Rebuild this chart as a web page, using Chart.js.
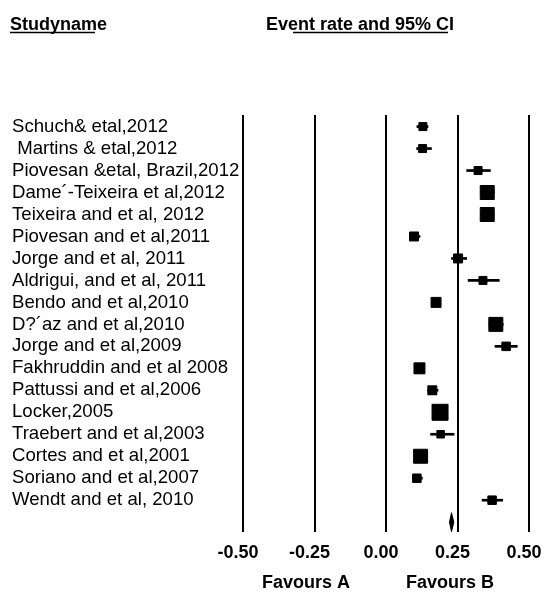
<!DOCTYPE html>
<html>
<head>
<meta charset="utf-8">
<script src="https://cdn.jsdelivr.net/npm/chart.js@4/dist/chart.umd.min.js"></script>
<style>
  html, body { margin: 0; padding: 0; background: #fff; }
  #wrap { width: 545px; height: 592px; }
</style>
</head>
<body>
<div id="wrap"><canvas id="c" width="545" height="592"></canvas></div>
<script>
// ---- data ----
const studyNames = [
  "Schuch& etal,2012",
  " Martins & etal,2012",
  "Piovesan &etal, Brazil,2012",
  "Dame\u00B4-Teixeira et al,2012",
  "Teixeira and et al, 2012",
  "Piovesan and et al,2011",
  "Jorge and et al, 2011",
  "Aldrigui, and et al, 2011",
  "Bendo and et al,2010",
  "D?\u00B4az and et al,2010",
  "Jorge and et al,2009",
  "Fakhruddin and et al 2008",
  "Pattussi and et al,2006",
  "Locker,2005",
  "Traebert and et al,2003",
  "Cortes and et al,2001",
  "Soriano and et al,2007",
  "Wendt and et al, 2010"
];
const eventRate = [0.129, 0.128, 0.322, 0.354, 0.354, 0.098, 0.252, 0.339, 0.175,
                   0.384, 0.420, 0.117, 0.162, 0.189, 0.191, 0.121, 0.108, 0.371];
const lowerCI   = [0.108, 0.107, 0.282, 0.330, 0.330, 0.083, 0.229, 0.287, 0.160,
                   0.360, 0.381, 0.100, 0.146, 0.170, 0.156, 0.100, 0.092, 0.336];
const upperCI   = [0.147, 0.159, 0.365, 0.378, 0.378, 0.119, 0.282, 0.396, 0.190,
                   0.410, 0.459, 0.135, 0.182, 0.210, 0.238, 0.140, 0.127, 0.408];
const studyWeight = [9, 9, 9, 15, 15, 10, 10, 9, 11, 15, 9.5, 12, 10, 17, 8.5, 15, 9.5, 9.5];
const summaryRate = 0.229;
const summaryLower = 0.222;
const summaryUpper = 0.237;
const xTickValues = [-0.5, -0.25, 0, 0.25, 0.5];

// ---- chart ----
const FONT = "'Liberation Sans', Arial, Helvetica, sans-serif";
Chart.defaults.font.family = FONT;
Chart.defaults.color = '#000';

const summaryRow = studyNames.length;
const halfH = 0.43;

const textPlugin = {
  id: 'texts',
  afterDraw(chart) {
    const ctx = chart.ctx;
    ctx.save();
    ctx.fillStyle = '#000';
    ctx.strokeStyle = '#000';
    ctx.textBaseline = 'alphabetic';
    ctx.font = 'bold 18px ' + FONT;
    ctx.textAlign = 'left';
    ctx.fillText('Studyname', 10, 30);
    ctx.fillText('Event rate and 95% CI', 266, 30);
    ctx.lineWidth = 1.3;
    ctx.beginPath();
    ctx.moveTo(10, 32.5); ctx.lineTo(95, 32.5);
    ctx.moveTo(293, 32.5); ctx.lineTo(448, 32.5);
    ctx.stroke();
    ctx.textAlign = 'center';
    ctx.textBaseline = 'middle';
    ctx.fillText('Favours A', 306, 583);
    ctx.fillText('Favours B', 450, 583);
    ctx.restore();
  }
};

new Chart(document.getElementById('c'), {
  type: 'bar',
  data: {
    datasets: [
      {
        type: 'scatter',
        label: 'Event rate',
        data: eventRate.map((v, i) => ({ x: v, y: i })),
        pointStyle: 'rect',
        pointRadius: studyWeight.map(w => (w - 1) / Math.SQRT2),
        backgroundColor: '#000',
        borderColor: '#000',
        borderWidth: 1
      },
      {
        type: 'bar',
        label: '95% CI',
        data: lowerCI.map((lo, i) => ({ x: [lo, upperCI[i]], y: i })),
        backgroundColor: '#000',
        borderWidth: 0,
        barThickness: 2
      },
      {
        type: 'scatter',
        label: 'Summary',
        data: [
          { x: summaryLower, y: summaryRow },
          { x: summaryRate, y: summaryRow - halfH },
          { x: summaryUpper, y: summaryRow },
          { x: summaryRate, y: summaryRow + halfH },
          { x: summaryLower, y: summaryRow }
        ],
        showLine: true,
        fill: 'shape',
        backgroundColor: '#000',
        borderColor: '#000',
        borderWidth: 1,
        pointRadius: 0,
        clip: 4
      }
    ]
  },
  options: {
    indexAxis: 'y',
    responsive: false,
    animation: false,
    layout: { padding: { left: 12, top: 115, right: 16, bottom: 0 } },
    plugins: { legend: { display: false }, tooltip: { enabled: false } },
    scales: {
      x: {
        type: 'linear',
        min: -0.5,
        max: 0.5,
        afterBuildTicks(scale) { scale.ticks = xTickValues.map(v => ({ value: v })); },
        afterFit(scale) { scale.height = 60; scale.paddingLeft = 0; scale.paddingRight = 0; },
        ticks: {
          callback: v => Number(v).toFixed(2),
          font: { size: 18, weight: 'bold' },
          color: '#000',
          padding: 10,
          labelOffset: -5,
          autoSkip: false,
          maxRotation: 0
        },
        grid: { color: '#000', lineWidth: 2, drawTicks: false },
        border: { display: false }
      },
      y: {
        type: 'linear',
        reverse: true,
        min: 0,
        max: 17.92,
        afterBuildTicks(scale) { scale.ticks = studyNames.map((_, i) => ({ value: i })); },
        afterFit(scale) { scale.width = 231; },
        ticks: {
          callback: v => studyNames[v],
          crossAlign: 'far',
          font: { size: 18.6 },
          color: '#000',
          autoSkip: false
        },
        grid: { display: false, drawTicks: false },
        border: { display: false }
      }
    }
  },
  plugins: [textPlugin]
});
</script>
</body>
</html>
